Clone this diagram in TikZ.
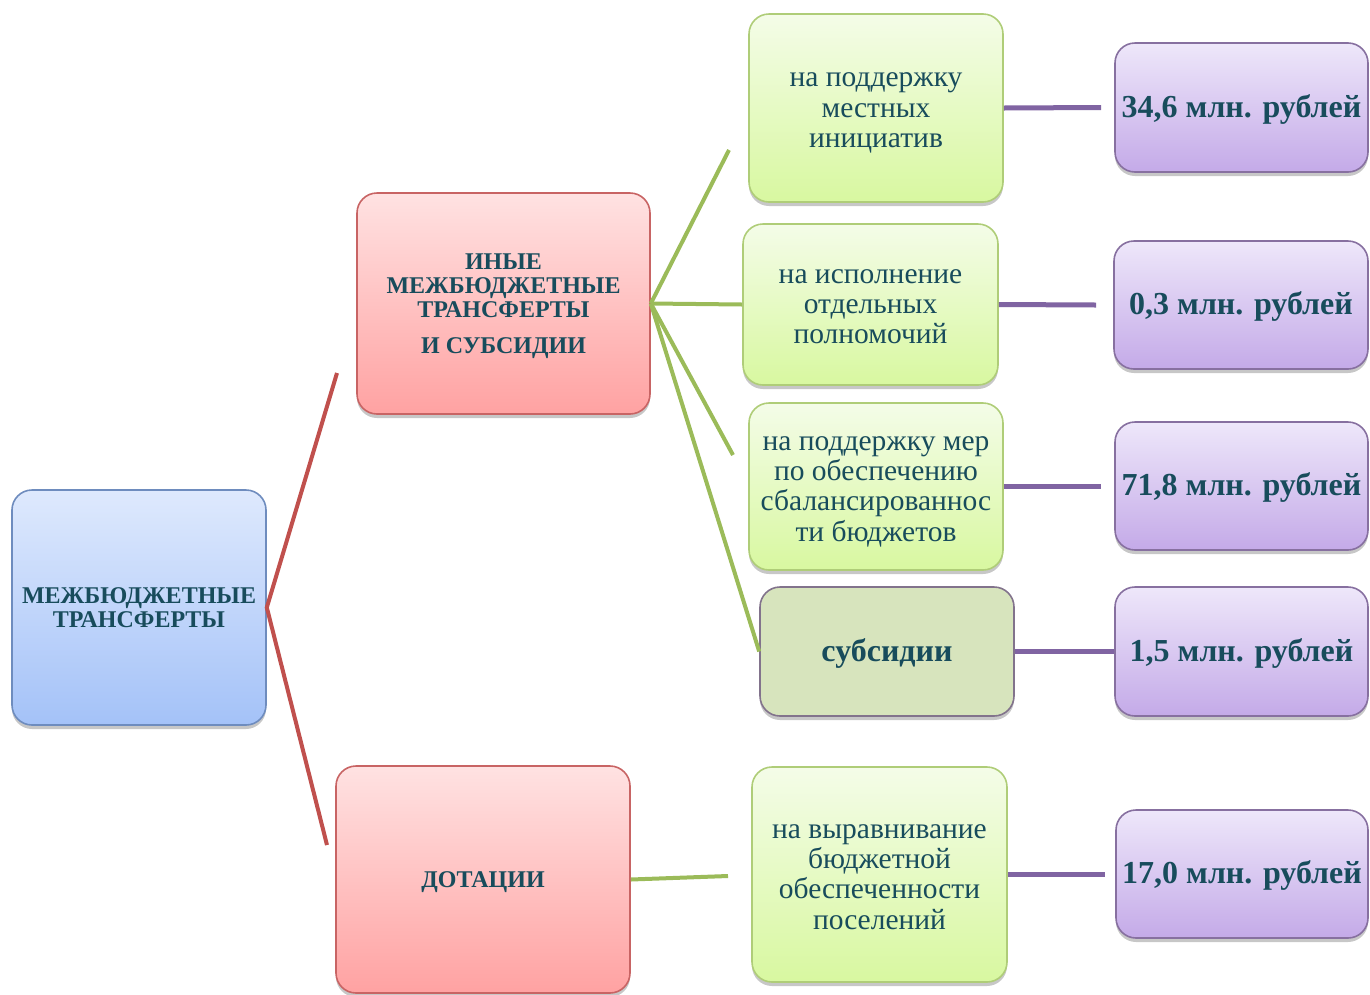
\documentclass[tikz,border=0pt]{standalone}
\usepackage{fontspec}
\setmainfont{Liberation Serif}
\usetikzlibrary{shadows}
\definecolor{txt}{RGB}{24,76,92}
\definecolor{redln}{RGB}{192,80,77}
\definecolor{grnln}{RGB}{155,187,89}
\definecolor{purln}{RGB}{128,100,162}
\newcommand{\tbk}[1]{\raisebox{-3pt}[\height][\depth]{\begin{tabular}{@{}c@{}}#1\end{tabular}}}
\tikzset{
  x=1pt, y=-1pt,
  boxbase/.style={rounded corners=20pt, line width=1.6pt, text=txt,
    inner sep=2pt, drop shadow={shadow xshift=0pt, shadow yshift=-4pt, opacity=0.22, fill=black}},
  bluebox/.style={boxbase, draw={rgb,255:red,110;green,140;blue,190}, top color={rgb,255:red,222;green,233;blue,253}, bottom color={rgb,255:red,164;green,194;blue,248}},
  pinkbox/.style={boxbase, draw={rgb,255:red,200;green,100;blue,100}, top color={rgb,255:red,255;green,226;blue,226}, bottom color={rgb,255:red,255;green,162;blue,162}},
  greenbox/.style={boxbase, draw={rgb,255:red,175;green,205;blue,120}, top color={rgb,255:red,244;green,252;blue,232}, bottom color={rgb,255:red,216;green,248;blue,160}},
  olivebox/.style={boxbase, draw={rgb,255:red,130;green,115;blue,140}, fill={rgb,255:red,215;green,228;blue,189}},
  purbox/.style={boxbase, draw={rgb,255:red,135;green,112;blue,160}, top color={rgb,255:red,238;green,231;blue,250}, bottom color={rgb,255:red,196;green,170;blue,232}},
  headtxt/.style={font=\bfseries\fontsize{24}{24}\selectfont},
  normtxt/.style={font=\fontsize{29.5}{30.3}\selectfont},
  sumtxt/.style={font=\bfseries\fontsize{32}{32}\selectfont},
  redc/.style={draw=redln, line width=4pt},
  grnc/.style={draw=grnln, line width=4pt},
  purc/.style={draw=purln, line width=5pt},
}
\begin{document}
\begin{tikzpicture}
\useasboundingbox (0,0) rectangle (1370,994);
\clip (0,0) rectangle (1370,994);
% nodes
\node[bluebox, headtxt, minimum width=254pt, minimum height=235pt] (mt) at (139,607.5) {\tbk{МЕЖБЮДЖЕТНЫЕ\\ТРАНСФЕРТЫ}};
\node[pinkbox, headtxt, minimum width=293pt, minimum height=221pt] (im) at (503.5,303.5) {\tbk{ИНЫЕ\\МЕЖБЮДЖЕТНЫЕ\\ТРАНСФЕРТЫ\\[12pt]И СУБСИДИИ}};
\node[pinkbox, headtxt, minimum width=294pt, minimum height=227pt] (dt) at (483,879.5) {\tbk{ДОТАЦИИ}};
\node[greenbox, normtxt, minimum width=254pt, minimum height=188pt] (g1) at (876,108) {\tbk{на поддержку\\местных\\инициатив}};
\node[greenbox, normtxt, minimum width=255pt, minimum height=161pt] (g2) at (870.5,304.5) {\tbk{на исполнение\\отдельных\\полномочий}};
\node[greenbox, normtxt, minimum width=254pt, minimum height=167pt] (g3) at (876,486.5) {\tbk{на поддержку мер\\по обеспечению\\сбалансированнос\\ти бюджетов}};
\node[olivebox, sumtxt, minimum width=254pt, minimum height=129pt] (sb) at (887,651.5) {\tbk{субсидии}};
\node[greenbox, normtxt, minimum width=255pt, minimum height=215pt] (g4) at (879.5,874.5) {\tbk{на выравнивание\\бюджетной\\обеспеченности\\поселений}};
\node[purbox, sumtxt, minimum width=253pt, minimum height=129pt] (p1) at (1241.5,107.5) {\tbk{34,6 млн. рублей}};
\node[purbox, sumtxt, minimum width=254pt, minimum height=128pt] (p2) at (1241,305) {\tbk{0,3 млн. рублей}};
\node[purbox, sumtxt, minimum width=253pt, minimum height=128pt] (p3) at (1241.5,486) {\tbk{71,8 млн. рублей}};
\node[purbox, sumtxt, minimum width=253pt, minimum height=129pt] (p4) at (1241.5,651.5) {\tbk{1,5 млн. рублей}};
\node[purbox, sumtxt, minimum width=252pt, minimum height=128pt] (p5) at (1242,874) {\tbk{17,0 млн. рублей}};
% free ends
\coordinate (r1) at (337,373);
\coordinate (r2) at (327,845);
\coordinate (e1) at (729,150);
\coordinate (e3) at (733,455);
\coordinate (e4) at (728,876);
\coordinate (q1) at (1101,107.5);
\coordinate (q2) at (1096,305);
\coordinate (q3) at (1101,486.5);
\coordinate (q5) at (1105,874.5);
% connectors
\draw[redc] (r1) -- (mt.east) -- (r2);
\draw[grnc] (im.east) -- (e1);
\draw[grnc] (im.east) -- (g2.west);
\draw[grnc] (im.east) -- (e3);
\draw[grnc] (im.east) -- (sb.west);
\draw[grnc] (dt.east) -- (e4);
\draw[purc] (g1.east) -- (q1);
\draw[purc] (g2.east) -- (q2);
\draw[purc] (g3.east) -- (q3);
\draw[purc] (sb.east) -- (p4.west);
\draw[purc] (g4.east) -- (q5);
\end{tikzpicture}
\end{document}
